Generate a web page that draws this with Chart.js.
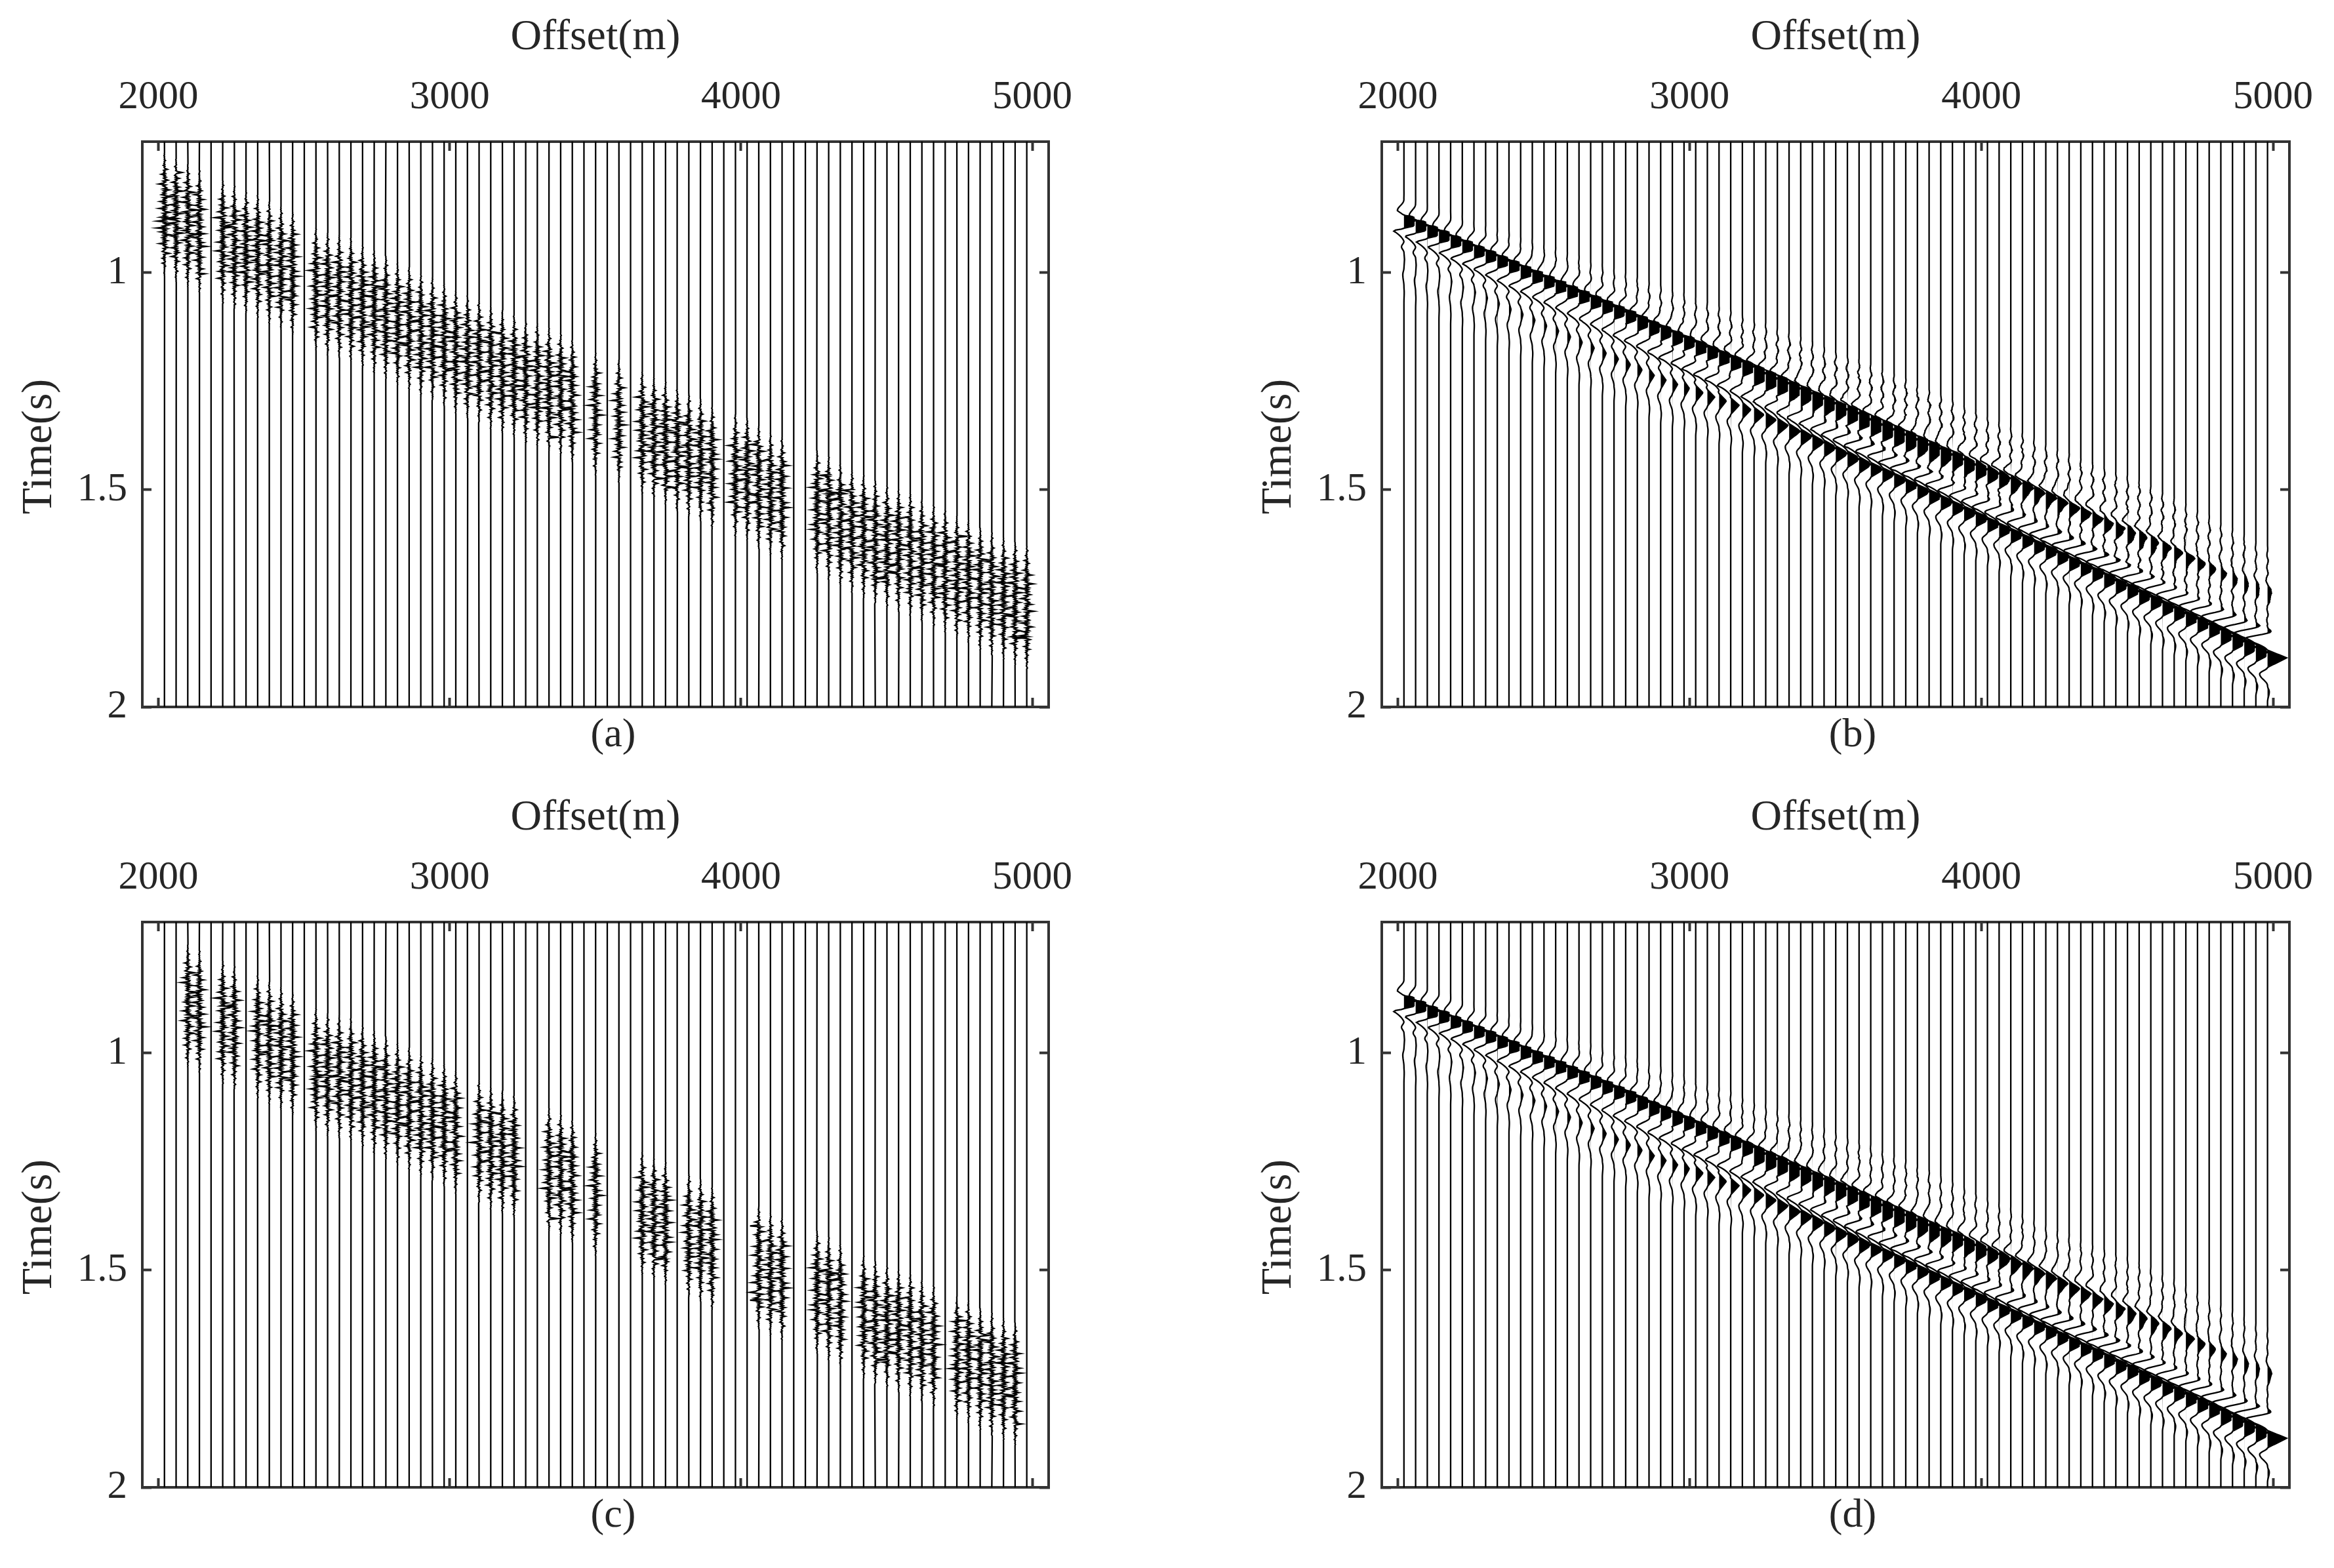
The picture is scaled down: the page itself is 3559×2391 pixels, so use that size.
<!DOCTYPE html>
<html>
<head>
<meta charset="utf-8">
<title>Wiggle panels</title>
<script src="https://cdn.jsdelivr.net/npm/chart.js@4"></script>
<style>
  html, body { margin: 0; background: #fff; }
  #page { position: relative; width: 3559px; height: 2391px; overflow: hidden; }
  canvas { position: absolute; }
</style>
</head>
<body>
<div id="page">
  <canvas id="panelA" width="1780" height="1195" style="left:0;top:0"></canvas>
  <canvas id="panelB" width="1782" height="1195" style="left:1890px;top:0"></canvas>
  <canvas id="panelC" width="1780" height="1195" style="left:0;top:1190px"></canvas>
  <canvas id="panelD" width="1782" height="1195" style="left:1890px;top:1190px"></canvas>
</div>
<script>
const xTicks = [2000, 3000, 4000, 5000];
const yTicks = [1, 1.5, 2];

// receiver offset of every trace (m)
const traceOffsets = [2021,2061,2101,2141,2181,2221,2261,2301,2341,2381,2421,2461,2501,2541,2581,2621,2661,2701,2741,2781,2821,2861,2901,2941,2981,
  3021,3061,3101,3141,3181,3221,3261,3301,3341,3381,3421,3461,3501,3541,3581,3621,3661,3701,3741,3781,3821,3861,3901,3941,3981,
  4021,4061,4101,4141,4181,4221,4261,4301,4341,4381,4421,4461,4501,4541,4581,4621,4661,4701,4741,4781,4821,4861,4901,4941,4981];

// (a), (c): where the burst of each trace starts (s), read per trace
const burstOnset = [0.724,0.738,0.750,0.762,0.774,0.788,0.800,0.810,0.821,0.836,0.848,0.860,0.878,0.896,0.908,0.913,0.920,0.936,0.949,0.961,0.976,0.987,1.002,1.011,1.025,
  1.041,1.052,1.062,1.077,1.086,1.097,1.112,1.117,1.127,1.138,1.154,1.169,1.184,1.192,1.200,1.215,1.228,1.240,1.251,1.267,1.278,1.290,1.308,1.317,1.326,
  1.334,1.353,1.368,1.379,1.390,1.399,1.409,1.424,1.439,1.454,1.466,1.479,1.489,1.498,1.507,1.522,1.534,1.545,1.560,1.569,1.587,1.598,1.610,1.620,1.629];
const burstLength = 0.285;

// traces (1-based) that carry a burst
const activeA = [1,2,3,4,6,7,8,9,10,11,12,14,15,16,17,18,19,20,21,22,23,24,25,26,27,28,29,30,31,32,33,34,35,36,38,40,42,43,44,45,46,47,48,50,51,52,53,54,57,58,59,60,61,62,63,64,65,66,67,68,69,70,71,72,73,74,75];
const activeC = [3,4,6,7,9,10,11,12,14,15,16,17,18,19,20,21,22,23,24,25,26,28,29,30,31,34,35,36,38,42,43,44,46,47,48,52,53,54,57,58,59,61,62,63,64,65,66,67,69,70,71,72,73,74];

// burst samples (m from the trace line)
const burstSamples = [4,-5,3,-15,4,-4,5,-3,18,-4,3,-7,4,-12,5,-3,4,22,-5,3,-4,5,-16,4,-3,7,-4,3,14,-5,4,-3,-20,5,-4,3,8,-4,16,-3,4,-5,3,-9,4,24,-4,5,-3,4,-14,3,-5,4,11,-3,5,-18,4,-4,3,19,-5,4,-3,7,-12,4,-4,3,-24,5,-3,4,15,-5,3,-4,9,-3,5,-15,4,-3,20,-4,5,-8,3,-4,12,-3,4,-19,5,-4,3,16,-5,4,-3,-11,4,27,-4,3,-5,4,-16,3,-4,8,5,-22,4,-3,14,-4,5,-3];
const burstEnvelope = [0.05,0.2,0.45,0.75,0.95,1,1,0.95,1,1,0.95,0.85,0.65,0.4,0.2,0.05];

// long single spikes: trace, time (s), amplitude (m)
const spikesA = [[1,0.898,-25],[1,0.875,21],[2,0.878,-20],[2,0.770,20],[3,0.856,36],[3,0.911,42],[4,1.003,18],[7,0.893,-30],[8,0.963,24],
  [34,1.378,34],[43,1.474,35],[44,1.469,24],[44,1.493,27],[45,1.448,36],[52,1.396,-26],[58,1.507,40],[58,1.466,-30],[60,1.501,-30],[62,1.703,33],[63,1.673,30],[69,1.607,36],[74,1.840,40],[75,1.840,-30]];
const spikesC = [[3,0.860,40],[3,0.914,27],[6,0.894,32],[10,0.937,25],[14,1.056,18],[16,1.056,22],[34,1.382,30],[43,1.475,36],[52,1.397,-30],[52,1.550,-30],[52,1.568,-30],[58,1.508,36],[62,1.706,32],[63,1.661,36],[69,1.617,32],[71,1.649,30],[74,1.855,22]];

// (b), (d): zero crossing of the first and second event per trace (s)
const eventA = [0.868,0.879,0.891,0.902,0.914,0.925,0.937,0.948,0.960,0.971,0.983,0.994,1.006,1.017,1.029,1.040,1.052,1.063,1.075,1.086,1.098,1.110,1.121,1.133,1.144,
  1.156,1.167,1.179,1.190,1.202,1.213,1.225,1.236,1.248,1.259,1.271,1.282,1.294,1.305,1.317,1.329,1.340,1.352,1.363,1.375,1.386,1.398,1.409,1.421,1.432,
  1.444,1.455,1.467,1.478,1.490,1.501,1.513,1.524,1.536,1.548,1.559,1.571,1.582,1.594,1.605,1.617,1.628,1.640,1.651,1.663,1.674,1.686,1.697,1.709,1.720];
const eventB = [0.928,0.941,0.954,0.966,0.979,0.992,1.004,1.017,1.030,1.043,1.055,1.068,1.081,1.093,1.106,1.119,1.132,1.144,1.157,1.170,1.182,1.195,1.208,1.221,1.233,
  1.246,1.259,1.271,1.284,1.297,1.310,1.322,1.335,1.348,1.360,1.373,1.386,1.399,1.411,1.424,1.437,1.449,1.462,1.475,1.488,1.500,1.513,1.526,1.538,1.551,
  1.564,1.577,1.589,1.602,1.615,1.627,1.640,1.653,1.666,1.678,1.691,1.704,1.716,1.729,1.742,1.755,1.767,1.780,1.793,1.805,1.818,1.831,1.844,1.856,1.869];

// amplitudes (m) and lobe lengths (s) read per trace
const peakA = [119,117,115,113,112,110,108,106,104,102,100,99,97,95,94,92,91,90,88,87,86,85,84,83,82,81,80,80,79,79,78,78,77,77,76,76,75,75,75,75,74,74,73,73,70,68,65,62,59,56,50,44,42,40,38,37,36,35,34,34,32,32,32,29,29,29,27,27,25,20,18,18,16,14,16];
const widthA = [.030,.030,.030,.030,.030,.030,.030,.030,.030,.030,.032,.032,.032,.032,.032,.032,.032,.032,.032,.032,.036,.036,.036,.036,.036,.036,.036,.036,.036,.036,.048,.048,.048,.048,.048,.048,.048,.048,.048,.048,.050,.050,.050,.050,.050,.050,.050,.050,.050,.050,.045,.045,.045,.045,.045,.045,.045,.045,.045,.045,.045,.045,.045,.045,.045,.045,.045,.045,.045,.045,.045,.045,.045,.045,.045];
const leadA = [22,22,22,22,22,22,22,22,22,22,22,22,22,22,22,22,22,22,22,22,22,22,22,22,22,22,22,22,22,22,22,22,22,22,22,22,22,22,22,22,22,22,22,22,22,22,22,22,22,22,22,22,22,22,22,22,22,22,22,22,14,14,13,12,12,12,8,6,5,4,4,3,3,3,3];
const leadB = [36,36,37,37,38,38,38,39,39,39,40,40,40,40,41,41,41,41,42,42,42,42,43,43,43,44,44,44,45,45,45,46,46,46,47,47,47,48,48,48,49,49,49,50,50,50,51,51,52,52,53,53,54,54,55,55,56,56,57,57,58,59,60,61,62,63,64,65,66,68,70,72,74,76,79];
const peakB = [2,2,2,3,4,4,5,6,7,7,8,9,9,10,11,11,12,13,15,16,16,18,18,18,18,25,25,25,29,29,34,36,38,40,41,43,45,45,46,46,47,48,49,50,50,52,52,52,52,54,54,54,54,54,56,56,56,56,56,58,58,58,58,58,58,59,60,60,61,61,61,62,62,63,65];
const delayB = [.0255,.0255,.0255,.0255,.0255,.0255,.0255,.0255,.0255,.0255,.0255,.0255,.0255,.0255,.0255,.0255,.0255,.0255,.0255,.0255,.0255,.0255,.0225,.0195,.0165,.0135,.0105,.0075,.0045,.0015,0,0,0,0,0,0,0,0,0,0,0,0,0,0,0,0,0,0,0,0,0,0,0,0,0,0,0,0,0,0,0,0,0,0,0,0,0,0,0,0,0,0,0,0,0];
const widthB = [.036,.036,.036,.036,.036,.036,.036,.036,.036,.036,.036,.036,.036,.036,.036,.036,.036,.036,.036,.036,.036,.036,.038,.038,.038,.038,.038,.038,.038,.038,.038,.038,.038,.038,.038,.038,.038,.038,.038,.038,.034,.034,.034,.034,.034,.034,.034,.034,.034,.034,.034,.034,.034,.034,.034,.034,.034,.034,.034,.034,.036,.036,.036,.036,.036,.036,.036,.036,.036,.036,.040,.040,.040,.040,.040];
const bumpB = [0,0,0,0,0,0,0,0,0,0,0,0,0,0,0,0,0,0,0,0,0,0,0,0,0,0,0,0,0,0,0,0,4,5,6,7,8,8,9,10,10,11,11,12,12,13,13,14,14,14,15,15,15,15,15,16,16,16,16,16,16,16,16,16,16,16,16,16,16,16,16,16,16,16,16];
const postB = [4,4,4,4,4,5,5,5,6,6,6,7,7,7,8,8,8,9,9,9,9,9,10,10,10,11,11,11,12,12,12,13,13,13,14,14,14,15,15,15,16,16,16,16,17,17,17,17,18,18,18,18,19,19,19,20,20,20,21,21,21,22,22,22,23,23,23,24,24,25,25,26,26,27,27];

// small ripple ahead of the events
const rippleGain = [.1,.1,.1,.15,.15,.2,.2,.25,.25,.3,.3,.35,.35,.4,.4,.45,.45,.5,.5,.55,.6,.6,.65,.65,.7,.7,.75,.75,.8,.8,.8,.85,.85,.9,.9,.9,.9,.95,.95,1,1,1,1,1,1,1,1,1,.95,.95,.9,.9,.9,.9,.85,.85,.85,.85,.85,.9,.9,.9,.95,.95,.95,.9,.9,.85,.8,.8,.7,.7,.65,.6,.6];
const rippleSamples = [1,-2,3,5,2,-1,-4,-5,-2,1,4,3,-1,-3,-5,-3,2,5,4,1,-2,-4,-1,2,3,5,3,-2,-5,-4,-1,3,4,2,-3,-5,-2,1,5,4,-1,-3,-4,-1,2,4,5,1,-3,-5,-3,1,2,5,3,-1,-4,-2,1,4,2,-2,-5,-3];

const xMin = 1945, xMax = 5056, yMin = 0.6985, yMax = 2;
const sampleStep = 0.00225;
const blockCap = 34;     // lobes stop just short of the next trace
const inkColor = '#000', frameColor = '#333', textColor = '#262626';
const fontFamily = '"Liberation Serif", serif';

function ease(t, t0, t1, a, b) {
  const f = (t - t0) / (t1 - t0);
  return a + (b - a) * (1 - Math.cos(Math.PI * f)) / 2;
}

function ramp(t, t0, t1, a, b) {
  return a + (b - a) * (t - t0) / (t1 - t0);
}

// straight run into the zero crossing, rounded at the far tip
function tipReturn(t, t0, t1, a) {
  const f = (t - t0) / (t1 - t0);
  return a * (1 - f * (2 - f) * 0.6 - f * 0.4);
}

function ripple(i, t, scale) {
  const p = t / 0.0045 + i * 11;
  const n = rippleSamples.length;
  const a = Math.floor(p), f = p - a;
  return scale * rippleGain[i] * (rippleSamples[a % n] * (1 - f) + rippleSamples[(a + 1) % n] * f);
}

// amplitude of trace i at time t, two events with their side lobes
function eventAmp(i, t, j, scale) {
  const z1 = eventA[i], z2 = eventB[i], w1 = widthA[i], w2 = widthB[i];
  let v = 0;
  const top1 = z1 + 0.4 * w1;
  if (t >= z1 - 0.036 && t < z1 - 0.0105) v += ease(t, z1 - 0.036, z1 - 0.0105, 0, -leadA[i]);
  else if (t >= z1 - 0.0105 && t < z1) v += ramp(t, z1 - 0.0105, z1, -leadA[i], 0);
  else if (t >= z1 && t < top1) v += ramp(t, z1, top1, 0, peakA[i]);
  else if (t >= top1 && t < z1 + w1) v += ramp(t, top1, z1 + w1, peakA[i], 0);

  const tip = z2 - 0.024;
  let from = Math.max(z1 + w1, z2 - 0.045);
  if (from > tip - 0.004) from = tip - 0.004;
  if (t >= from && t < tip) v += ease(t, from, tip, 0, -leadB[i]);
  else if (t >= tip && t < z2) v += tipReturn(t, tip, z2, -leadB[i]);

  if (bumpB[i] && t >= z2 - 0.051 && t < z2 - 0.027) {
    v += t < z2 - 0.039 ? ease(t, z2 - 0.051, z2 - 0.039, 0, bumpB[i]) : ease(t, z2 - 0.039, z2 - 0.027, bumpB[i], 0);
  }

  const s = z2 + delayB[i], top2 = s + 0.45 * w2, e = s + w2;
  const dip = delayB[i] * 330;
  if (dip && t >= z2 && t < s) {
    const mid = (z2 + s) / 2;
    v += t < mid ? ease(t, z2, mid, 0, -dip) : ease(t, mid, s, -dip, 0);
  }
  if (t >= s && t < top2) v += ramp(t, s, top2, 0, peakB[i]);
  else if (t >= top2 && t < e) v += ramp(t, top2, e, peakB[i], 0);
  else if (t >= e && t < e + 0.015) v += ease(t, e, e + 0.015, 0, -postB[i]);
  else if (t >= e + 0.015 && t < e + 0.042) v += ease(t, e + 0.015, e + 0.042, -postB[i], 0);
  else if (t >= e + 0.042 && t < e + 0.056) v += ease(t, e + 0.042, e + 0.056, 0, postB[i] * 0.22);
  else if (t >= e + 0.056 && t < e + 0.08) v += ease(t, e + 0.056, e + 0.08, postB[i] * 0.22, 0);

  const win = 0.05 + 0.07 * rippleGain[i];
  if (t >= z1 - win && t < z2 - 0.02) {
    const fade = Math.min(1, (t - z1 + win) / 0.03);
    const hair = burstSamples[(j + i * 23) % burstSamples.length] * 0.07 * rippleGain[i] * scale;
    v += (ripple(i, t, scale) + hair) * fade;
  }
  return v;
}

function eventTrace(i, scale) {
  const x0 = traceOffsets[i];
  const start = eventA[i] - 0.13, end = Math.min(yMax, eventB[i] + delayB[i] + widthB[i] + 0.09);
  const times = [], amps = [];
  for (let t = start; t < end; t += sampleStep) {
    amps.push(eventAmp(i, t, times.length, scale));
    times.push(t);
  }
  // clip the lobes at the next trace, except for the last one, keep a thin link at the peak
  if (i < traceOffsets.length - 1) {
    for (let j = 0; j < amps.length; j++) {
      if (amps[j] > blockCap) {
        let m = j, last = j;
        while (last < amps.length && amps[last] > blockCap) {
          if (amps[last] > amps[m]) m = last;
          last++;
        }
        for (let q = j; q < last; q++) amps[q] = q === m ? Math.min(amps[q], 42) : blockCap;
        j = last;
      }
    }
  }
  const line = [{x: x0, y: yMin}];
  const lobe = [];
  times.forEach((t, j) => {
    line.push({x: x0 + amps[j], y: t});
    lobe.push({x: x0 + Math.max(amps[j], 0), y: t});
  });
  line.push({x: x0, y: yMax});
  return {line, lobe};
}

function burstTrace(i, spikes) {
  const x0 = traceOffsets[i];
  const line = [{x: x0, y: yMin}];
  const n = burstSamples.length, ne = burstEnvelope.length - 1;
  const own = spikes.filter(s => s[0] === i + 1);
  for (let t = burstOnset[i], j = 0; t < burstOnset[i] + burstLength; t += sampleStep, j++) {
    const p = (t - burstOnset[i]) / burstLength * ne;
    const e = Math.floor(p);
    const env = burstEnvelope[e] + (burstEnvelope[Math.min(e + 1, ne)] - burstEnvelope[e]) * (p - e);
    let amp = burstSamples[(j + i * 37) % n] * env + ripple(i, t, 0.6) * env;
    if (i % 2) amp = -amp;
    const hit = own.find(s => Math.abs(s[1] - t) < sampleStep / 2);
    if (hit) amp = hit[2];
    line.push({x: x0 + amp, y: t});
  }
  line.push({x: x0, y: yMax});
  return line;
}

function lineSet(data) {
  return {data, borderColor: inkColor, borderWidth: 2.3, borderDash: [100000, 0], fill: false, pointRadius: 0, order: 1};
}

function burstDatasets(active, spikes) {
  return traceOffsets.map((x0, i) => {
    if (active.includes(i + 1)) return lineSet(burstTrace(i, spikes));
    return lineSet([{x: x0, y: yMin}, {x: x0, y: yMax}]);
  });
}

function eventDatasets(scale) {
  const sets = [];
  traceOffsets.forEach((x0, i) => {
    const tr = eventTrace(i, scale);
    sets.push({data: tr.lobe, borderWidth: 0, backgroundColor: inkColor, fill: 'shape', pointRadius: 0, order: 2});
    sets.push(lineSet(tr.line));
  });
  return sets;
}

const tickFont = {family: fontFamily, size: 61};
const titleFont = {family: fontFamily, size: 66};

function tickScale(position, values, range, showLabels, size, gap, extra) {
  return Object.assign({
    type: 'linear', position, min: range[0], max: range[1],
    afterBuildTicks: s => { s.ticks = values.map(v => ({value: v})); },
    afterFit: s => { if (s.isHorizontal()) s.height = size; else s.width = size; },
    border: {display: true, color: frameColor, width: 4},
    grid: {drawOnChartArea: false, drawTicks: true, tickLength: -14, tickWidth: 4, tickColor: frameColor},
    ticks: {display: showLabels, padding: gap, autoSkip: false, maxRotation: 0, minRotation: 0, font: tickFont, color: textColor, callback: v => String(v)}
  }, extra || {});
}

// these two labels sit off the middle of the frame in the figure
const offCentreLabels = {
  id: 'offCentreLabels',
  afterDraw(chart) {
    const ctx = chart.ctx;
    ctx.save();
    ctx.fillStyle = textColor;
    ctx.textAlign = 'center';
    ctx.textBaseline = 'middle';
    ctx.font = `62px ${fontFamily}`;
    ctx.fillText(chart.options.plugins.offCentreLabels.letter, 935, 1122);
    ctx.translate(61, 681);
    ctx.rotate(-Math.PI / 2);
    ctx.font = `${titleFont.size}px ${fontFamily}`;
    ctx.fillText('Time(s)', 0, 0);
    ctx.restore();
  }
};

function makePanel(id, letter, datasets) {
  new Chart(document.getElementById(id), {
    type: 'line',
    data: {datasets},
    plugins: [offCentreLabels],
    options: {
      responsive: false,
      animation: false,
      indexAxis: 'y',
      parsing: false,
      normalized: true,
      events: [],
      layout: {padding: 0},
      plugins: {legend: {display: false}, title: {display: false}, tooltip: {enabled: false}, offCentreLabels: {letter}},
      scales: {
        x: tickScale('top', xTicks, [xMin, xMax], true, 216, 44, {
          title: {display: true, text: 'Offset(m)', font: titleFont, color: textColor, padding: {top: 18, bottom: 0}}
        }),
        x2: tickScale('bottom', xTicks, [xMin, xMax], false, 117, 3),
        y: tickScale('left', yTicks, [yMin, yMax], true, 217, 37, {reverse: true}),
        y2: tickScale('right', yTicks, [yMin, yMax], false, 181, 3, {reverse: true})
      }
    }
  });
}

Chart.defaults.elements.line.tension = 0;

makePanel('panelA', '(a)', burstDatasets(activeA, spikesA));
makePanel('panelB', '(b)', eventDatasets(1));
makePanel('panelC', '(c)', burstDatasets(activeC, spikesC));
makePanel('panelD', '(d)', eventDatasets(0.6));
</script>
</body>
</html>
